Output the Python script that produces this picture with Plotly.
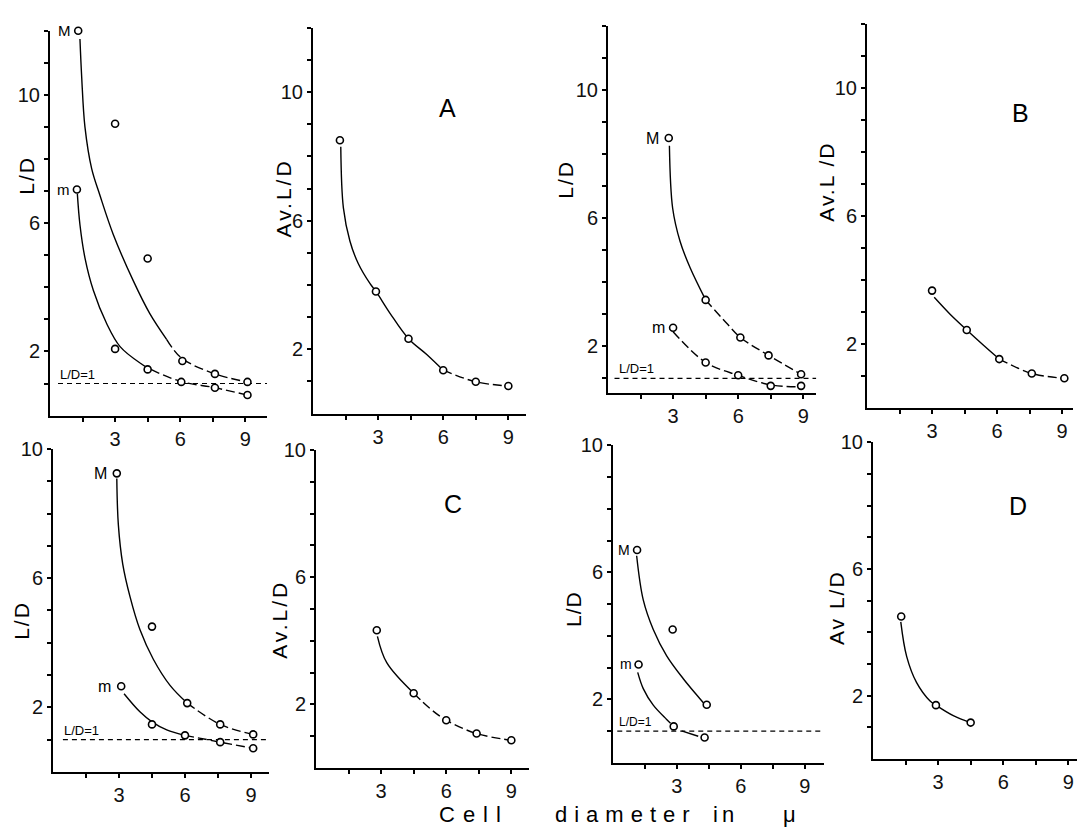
import plotly.graph_objects as go

W, H = 1078, 834

# ---------------- data ----------------
# Panel 1 (top-left): L/D, maxima (M) and minima (m)
p1_M_x = [1.3, 3.0, 4.5, 6.1, 7.6, 9.1]
p1_M_y = [12.0, 9.1, 4.9, 1.7, 1.3, 1.05]
p1_m_x = [1.24, 3.0, 4.5, 6.05, 7.6, 9.1]
p1_m_y = [7.05, 2.08, 1.44, 1.05, 0.87, 0.64]
p1_Mfit_x = [1.38, 1.46, 1.61, 1.92, 2.3, 2.92, 3.84, 4.6, 5.38, 6.05, 7.6, 9.1]
p1_Mfit_y = [11.74, 10.56, 9.0, 7.7, 6.87, 5.64, 4.2, 3.18, 2.37, 1.8, 1.3, 1.05]
p1_mfit_x = [1.26, 1.38, 1.61, 2.0, 2.61, 3.23, 4.15, 4.5, 6.0, 7.6, 9.1]
p1_mfit_y = [6.92, 5.95, 4.92, 3.9, 2.87, 2.15, 1.64, 1.49, 1.07, 0.87, 0.64]

# Panel A: Av. L/D
pA_x = [1.24, 2.9, 4.4, 6.0, 7.5, 9.0]
pA_y = [8.5, 3.8, 2.33, 1.35, 0.99, 0.86]
pAfit_x = [1.28, 1.4, 1.7, 2.09, 2.63, 2.9, 3.55, 4.4, 5.24, 6.0, 7.5, 9.0]
pAfit_y = [8.3, 6.4, 5.37, 4.66, 4.04, 3.8, 3.12, 2.33, 1.84, 1.35, 0.99, 0.86]

# Panel 3 (top, third): L/D
p3_M_x = [2.8, 4.5, 6.1, 7.4, 8.9]
p3_M_y = [8.5, 3.45, 2.28, 1.72, 1.13]
p3_m_x = [3.0, 4.5, 6.0, 7.5, 8.9]
p3_m_y = [2.58, 1.5, 1.1, 0.77, 0.77]
p3_Mfit_x = [2.83, 2.98, 3.32, 3.78, 4.5, 5.47, 6.1, 7.4, 8.9]
p3_Mfit_y = [8.26, 6.31, 5.28, 4.46, 3.45, 2.72, 2.28, 1.72, 1.13]
p3_mfit_x = [3.0, 4.5, 6.0, 7.5, 8.9]
p3_mfit_y = [2.46, 1.5, 1.1, 0.8, 0.74]

# Panel B: Av. L/D
pB_x = [3.0, 4.6, 6.1, 7.6, 9.1]
pB_y = [3.66, 2.43, 1.52, 1.07, 0.92]
pBfit_x = [3.1, 3.82, 4.6, 5.36, 6.1, 7.6, 9.1]
pBfit_y = [3.45, 2.93, 2.43, 1.96, 1.52, 1.07, 0.92]

# Panel 5 (bottom-left): L/D
p5_M_x = [2.9, 4.5, 6.1, 7.6, 9.1]
p5_M_y = [9.25, 4.5, 2.13, 1.47, 1.16]
p5_m_x = [3.1, 4.5, 6.0, 7.6, 9.1]
p5_m_y = [2.65, 1.47, 1.13, 0.92, 0.73]
p5_Mfit_x = [2.9, 2.97, 3.17, 3.5, 3.95, 4.56, 5.32, 6.1, 7.6, 9.1]
p5_Mfit_y = [9.09, 7.66, 6.44, 5.43, 4.41, 3.49, 2.68, 2.13, 1.47, 1.16]
p5_mfit_x = [3.23, 3.95, 4.5, 5.17, 6.0, 7.6, 9.1]
p5_mfit_y = [2.42, 1.86, 1.55, 1.3, 1.13, 0.92, 0.73]

# Panel C: Av. L/D
pC_x = [2.8, 4.5, 6.0, 7.4, 9.0]
pC_y = [4.33, 2.35, 1.5, 1.08, 0.87]
pCfit_x = [2.83, 3.26, 4.5, 5.25, 6.0, 7.4, 9.0]
pCfit_y = [4.14, 3.31, 2.35, 1.87, 1.5, 1.08, 0.87]

# Panel 7 (bottom, third): L/D
p7_M_x = [1.13, 2.8, 4.4]
p7_M_y = [6.7, 4.2, 1.83]
p7_m_x = [1.2, 2.85, 4.3]
p7_m_y = [3.1, 1.15, 0.8]
p7_Mfit_x = [1.11, 1.42, 1.89, 2.52, 3.3, 4.08, 4.3]
p7_Mfit_y = [6.52, 5.13, 4.2, 3.37, 2.65, 2.02, 1.85]
p7_mfit_x = [1.16, 1.42, 1.89, 2.52, 2.7]
p7_mfit_y = [2.85, 2.34, 1.82, 1.37, 1.25]
p7_mfit2_x = [3.22, 4.0]
p7_mfit2_y = [1.01, 0.84]

# Panel D: Av. L/D
pD_x = [1.3, 2.9, 4.5]
pD_y = [4.5, 1.7, 1.15]
pDfit_x = [1.28, 1.55, 2.01, 2.63, 2.9, 3.7, 4.5]
pDfit_y = [4.33, 3.24, 2.41, 1.83, 1.7, 1.37, 1.15]

# reference line L/D = 1
ld1_value = 1.0

# tick labels
x_tickvals = [1.5, 3, 4.5, 6, 7.5, 9]
x_ticktext = ["", "3", "", "6", "", "9"]
y_label_vals = [2, 6, 10]

# ---------------- layout of the panels (pixels) ----------------
panels = {
    1: dict(px=(50, 267), py=(20, 410), xr=[0, 10.0], yr=[0, 12]),
    2: dict(px=(313, 525.7), py=(17, 408), xr=[0, 9.8], yr=[0, 12]),
    3: dict(px=(608, 816.3), py=(15, 387), xr=[0, 9.6], yr=[0.55, 12]),
    4: dict(px=(867, 1073), py=(13, 402), xr=[0, 9.5], yr=[0, 12]),
    5: dict(px=(53, 268.6), py=(444, 771), xr=[0, 9.8], yr=[0, 10]),
    6: dict(px=(316, 528.7), py=(445, 767), xr=[0, 9.8], yr=[0, 10]),
    7: dict(px=(613, 823.9), py=(440, 762), xr=[0, 9.9], yr=[0, 10]),
    8: dict(px=(873, 1077), py=(437, 758), xr=[0, 9.4], yr=[0, 10]),
}

FONT = "Liberation Sans"
fig = go.Figure()


def ax(n):
    return ("x" if n == 1 else f"x{n}"), ("y" if n == 1 else f"y{n}")


def add_curve(n, xs, ys, dash="solid"):
    xa, ya = ax(n)
    fig.add_trace(go.Scatter(x=xs, y=ys, mode="lines", xaxis=xa, yaxis=ya,
                             line=dict(color="black", width=1.4, dash=dash, shape="spline", smoothing=1.0),
                             hoverinfo="skip"))


def split(xs, ys, xcut):
    a = [(x, y) for x, y in zip(xs, ys) if x <= xcut]
    b = [(x, y) for x, y in zip(xs, ys) if x >= xcut]
    return [p[0] for p in a], [p[1] for p in a], [p[0] for p in b], [p[1] for p in b]


def add_curve_split(n, xs, ys, xcut):
    ax1, ay1, bx, by = split(xs, ys, xcut)
    add_curve(n, ax1, ay1, "solid")
    if len(bx) > 1:
        add_curve(n, bx, by, "9px,4px")


def add_points(n, xs, ys):
    xa, ya = ax(n)
    fig.add_trace(go.Scatter(x=xs, y=ys, mode="markers", xaxis=xa, yaxis=ya,
                             marker=dict(symbol="circle", size=7, color="white",
                                         line=dict(color="black", width=1.6)),
                             cliponaxis=False, hoverinfo="skip"))


def add_ld1(n, x0):
    xa, ya = ax(n)
    xr = panels[n]["xr"]
    fig.add_trace(go.Scatter(x=[x0, xr[1]], y=[ld1_value, ld1_value], mode="lines",
                             xaxis=xa, yaxis=ya,
                             line=dict(color="black", width=1.2, dash="5px,4px"),
                             hoverinfo="skip"))


# Panel 1
add_ld1(1, 0.37)
add_curve_split(1, p1_Mfit_x, p1_Mfit_y, 5.38)
add_curve_split(1, p1_mfit_x, p1_mfit_y, 4.15)
add_points(1, p1_M_x, p1_M_y)
add_points(1, p1_m_x, p1_m_y)
# Panel A
add_curve_split(2, pAfit_x, pAfit_y, 6.0)
add_points(2, pA_x, pA_y)
# Panel 3
add_ld1(3, 0.3)
add_curve_split(3, p3_Mfit_x, p3_Mfit_y, 4.5)
add_curve(3, p3_mfit_x, p3_mfit_y, "9px,4px")
add_points(3, p3_M_x, p3_M_y)
add_points(3, p3_m_x, p3_m_y)
# Panel B
add_curve_split(4, pBfit_x, pBfit_y, 6.1)
add_points(4, pB_x, pB_y)
# Panel 5
add_ld1(5, 0.45)
add_curve_split(5, p5_Mfit_x, p5_Mfit_y, 6.1)
add_curve_split(5, p5_mfit_x, p5_mfit_y, 6.0)
add_points(5, p5_M_x, p5_M_y)
add_points(5, p5_m_x, p5_m_y)
# Panel C
add_curve_split(6, pCfit_x, pCfit_y, 4.5)
add_points(6, pC_x, pC_y)
# Panel 7
add_ld1(7, 0.2)
add_curve(7, p7_Mfit_x, p7_Mfit_y)
add_curve(7, p7_mfit_x, p7_mfit_y)
add_curve(7, p7_mfit2_x, p7_mfit2_y)
add_points(7, p7_M_x, p7_M_y)
add_points(7, p7_m_x, p7_m_y)
# Panel D
add_curve(8, pDfit_x, pDfit_y)
add_points(8, pD_x, pD_y)

layout = dict(width=W, height=H, margin=dict(l=0, r=0, t=0, b=0),
              paper_bgcolor="white", plot_bgcolor="white", showlegend=False,
              font=dict(family=FONT, color="black"))

for n, p in panels.items():
    xk = "xaxis" if n == 1 else f"xaxis{n}"
    yk = "yaxis" if n == 1 else f"yaxis{n}"
    xa, ya = ax(n)
    ymax = int(p["yr"][1])
    yvals = list(range(1, ymax + 1))
    ytext = [str(v) if v in y_label_vals else "" for v in yvals]
    common = dict(showline=True, linecolor="black", linewidth=2, ticks="outside",
                  ticklen=4, tickwidth=1.5, tickcolor="black", showgrid=False,
                  zeroline=False, fixedrange=True,
                  tickfont=dict(family=FONT, size=20, color="#111"))
    layout[xk] = dict(domain=[p["px"][0] / W, p["px"][1] / W], range=p["xr"], anchor=ya,
                      tickmode="array", tickvals=x_tickvals, ticktext=x_ticktext, **common)
    layout[yk] = dict(domain=[1 - p["py"][1] / H, 1 - p["py"][0] / H], range=p["yr"], anchor=xa,
                      tickmode="array", tickvals=yvals, ticktext=ytext, **common)

fig.update_layout(**layout)

ann = []


def lab(n, x, y, text, size=15, xanchor="right", yanchor="middle", xshift=0, yshift=0):
    xa, ya = ax(n)
    ann.append(dict(x=x, y=y, xref=xa, yref=ya, text=text, showarrow=False,
                    xanchor=xanchor, yanchor=yanchor, xshift=xshift, yshift=yshift,
                    font=dict(family=FONT, size=size, color="black")))


# M / m labels beside the first points
lab(1, p1_M_x[0], p1_M_y[0], "M", xshift=-5)
lab(1, p1_m_x[0], p1_m_y[0], "m", xshift=-5)
lab(3, p3_M_x[0], p3_M_y[0], "M", size=16, xshift=-8)
lab(3, p3_m_x[0], p3_m_y[0], "m", size=16, xshift=-6)
lab(5, p5_M_x[0], p5_M_y[0], "M", size=16, xshift=-8)
lab(5, p5_m_x[0], p5_m_y[0], "m", size=16, xshift=-8)
lab(7, p7_M_x[0], p7_M_y[0], "M", size=14, xshift=-5)
lab(7, p7_m_x[0], p7_m_y[0], "m", size=14, xshift=-5)

# L/D=1 labels
lab(1, 0.37, ld1_value, "L/D=1", size=13, xanchor="left", yanchor="bottom")
lab(3, 0.4, ld1_value, "L/D=1", size=13, xanchor="left", yanchor="bottom")
lab(5, 0.4, ld1_value, "L/D=1", size=13, xanchor="left", yanchor="bottom")
lab(7, 0.2, ld1_value, "L/D=1", size=12, xanchor="left", yanchor="bottom")

# panel letters
lab(2, 6.2, 9.5, "A", size=25, xanchor="center")
lab(4, 7.1, 9.2, "B", size=25, xanchor="center")
lab(6, 6.3, 8.3, "C", size=25, xanchor="center")
lab(8, 6.7, 8.0, "D", size=25, xanchor="center")


def ytitle(px, py, text, spacing=0):
    t = text if spacing == 0 else f'<span style="letter-spacing:{spacing}px">{text}</span>'
    ann.append(dict(x=px / W, y=1 - py / H, xref="paper", yref="paper", text=t,
                    showarrow=False, textangle=-90, xanchor="center", yanchor="middle",
                    font=dict(family=FONT, size=21, color="black")))


ytitle(27, 167, "L/D", 2)
ytitle(283, 190, "Av.L/D", 3)
ytitle(566, 171, "L/D", 2)
ytitle(827, 173, "Av.L /D", 2)
ytitle(22, 618, "L/D", 2)
ytitle(280, 617, "Av.L/D", 3)
ytitle(573, 606, "L/D", 1)
ytitle(836, 605, "Av L/D", 2)


def xtitle(cx, text, spacing):
    ann.append(dict(x=cx / W, y=1 - 814 / H, xref="paper", yref="paper",
                    text=f'<span style="letter-spacing:{spacing}px">{text}</span>',
                    showarrow=False, xanchor="center", yanchor="middle",
                    font=dict(family=FONT, size=22, color="black")))


xtitle(474, "Cell", 8)
xtitle(626, "diameter", 7)
xtitle(725, "in", 4)
xtitle(789, "μ", 0)

fig.update_layout(annotations=ann)
fig.write_html("out.html", config={"displayModeBar": False},
               post_script="document.body.style.margin='0px';document.body.style.overflow='hidden';")
